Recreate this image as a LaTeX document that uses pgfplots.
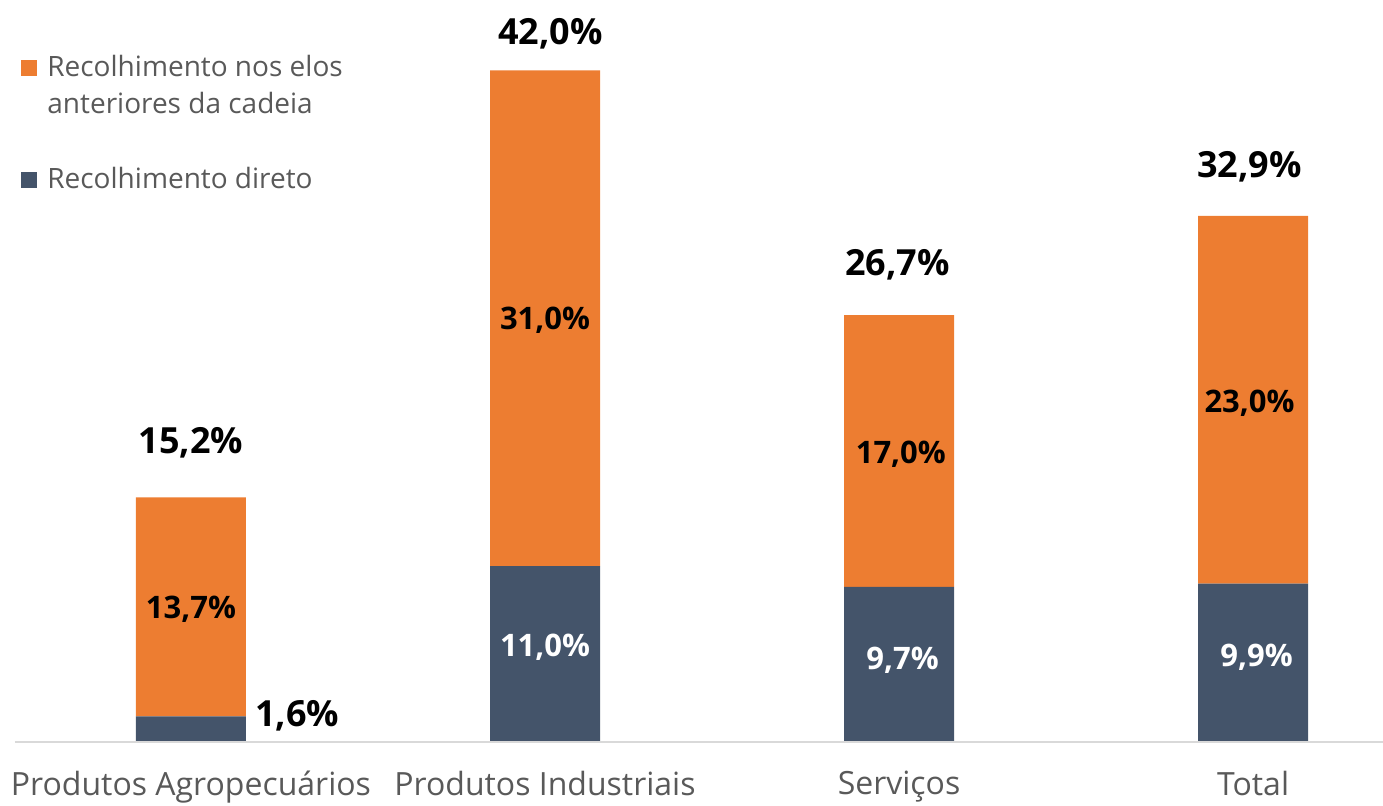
\documentclass[border=0pt]{standalone}
\usepackage{pgfplots}
\pgfplotsset{compat=1.18}
\usepackage{fontspec}
\setmainfont{Open Sans}
\definecolor{orng}{HTML}{ED7D31}
\definecolor{dblue}{HTML}{44546A}
\definecolor{txt}{HTML}{595959}
\definecolor{axl}{HTML}{D9D9D9}
\tikzset{lbl/.style={font=\bfseries\fontsize{18}{21}\selectfont, anchor=base},
         ilbl/.style={font=\bfseries\fontsize{15.5}{19}\selectfont, anchor=base}}
\begin{document}
\begin{tikzpicture}
\begin{axis}[
  set layers,
  every axis plot/.append style={on layer=axis background},
  scale only axis, width=684pt, height=371pt,
  xmin=-0.497, xmax=3.367, ymin=0, ymax=46.4,
  ybar stacked, bar width=55pt,
  clip=false,
  axis y line=none, axis x line*=bottom,
  x axis line style={axl, line width=1pt, -},
  xtick={0,1,2,3},
  xticklabels={Produtos Agropecuários, Produtos Industriais, Serviços, Total},
  major tick length=0pt,
  xticklabel style={font=\fontsize{16}{19}\selectfont, text=txt, yshift=-11pt},
  legend cell align=left,
  reverse legend,
  legend style={at={(rel axis cs:0,1)}, anchor=north west, xshift=3pt, yshift=-25.5pt,
    draw=none, fill=none, inner sep=0pt, row sep=21.5pt, column sep=3pt,
    font=\fontsize{14}{18.5}\selectfont, text=txt,
    nodes={inner sep=2pt, align=left}},
]
\addplot[fill=dblue, draw=none,
  legend image code/.code={\fill[dblue] (0pt,-4pt) rectangle (8pt,4pt);}]
  coordinates {(0,1.6) (1,11.0) (2,9.7) (3,9.9)};
\addlegendentry{Recolhimento direto}
\addplot[fill=orng, draw=none,
  legend image code/.code={\fill[orng] (0pt,5.25pt) rectangle (8pt,13.25pt);}]
  coordinates {(0,13.7) (1,31.0) (2,17.0) (3,23.0)};
\addlegendentry{Recolhimento nos elos\\anteriores da cadeia}

\node[lbl, text=black] at (axis cs:0,18.06) {15,2\%};
\node[lbl, text=black] at (axis cs:1.015,43.6) {42,0\%};
\node[lbl, text=black] at (axis cs:1.995,29.2) {26,7\%};
\node[lbl, text=black] at (axis cs:2.99,35.3) {32,9\%};
\node[ilbl, text=black] at (axis cs:0,7.72) {13,7\%};
\node[ilbl, text=black] at (axis cs:1,25.8) {31,0\%};
\node[ilbl, text=black] at (axis cs:2.005,17.4) {17,0\%};
\node[ilbl, text=black] at (axis cs:2.99,20.6) {23,0\%};
\node[ilbl, text=white] at (axis cs:1,5.375) {11,0\%};
\node[ilbl, text=white] at (axis cs:2.01,4.53) {9,7\%};
\node[ilbl, text=white] at (axis cs:3.01,4.72) {9,9\%};
\node[lbl, text=black] at (axis cs:0.3,0.94) {1,6\%};
\end{axis}
\pgfresetboundingbox
\path (-7.5pt,-31.5pt) rectangle (684pt,371pt);
\end{tikzpicture}
\end{document}
